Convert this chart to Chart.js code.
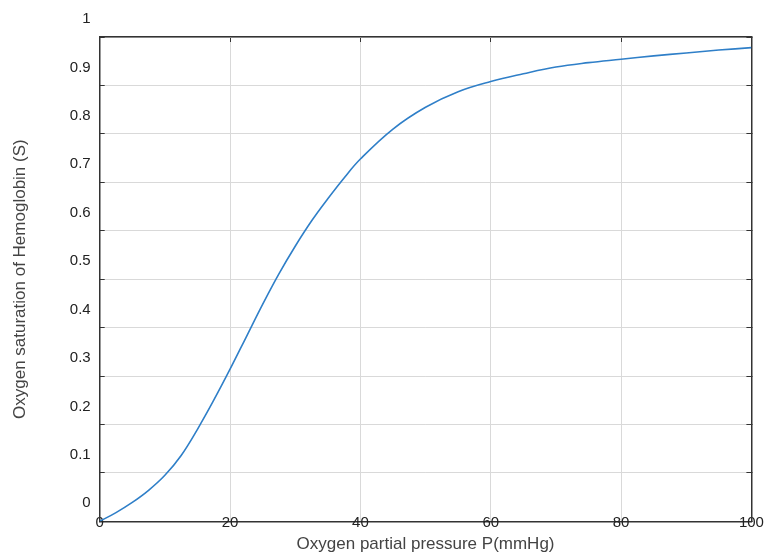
<!DOCTYPE html>
<html>
<head>
<meta charset="utf-8">
<script src="https://cdn.jsdelivr.net/npm/chart.js@4.4.0/dist/chart.umd.min.js"></script>
<style>
  html, body { margin: 0; padding: 0; background: #fff; }
  #wrap { width: 767px; height: 558px; }
</style>
</head>
<body>
<div id="wrap"><canvas id="myChart" width="767" height="558"></canvas></div>
<script>
// values
var pressure = [0, 2.5, 5, 7.5, 10, 12.5, 15, 17.5, 20, 22.5, 25, 27.5, 30, 32.5, 35, 37.5, 40,
                45, 50, 55, 60, 65, 70, 75, 80, 85, 90, 95, 100];
var saturation = [0, 0.018, 0.039, 0.064, 0.095, 0.136, 0.19, 0.25, 0.314, 0.381, 0.448, 0.511, 0.568, 0.62, 0.666, 0.709, 0.748,
                  0.81, 0.855, 0.887, 0.908, 0.924, 0.938, 0.947, 0.954, 0.961, 0.967, 0.973, 0.978];
var xTicks = [0, 20, 40, 60, 80, 100];
var yTicks = [0, 0.1, 0.2, 0.3, 0.4, 0.5, 0.6, 0.7, 0.8, 0.9, 1];

var points = pressure.map(function(p, i) { return {x: p, y: saturation[i]}; });

Chart.defaults.font.family = '"Liberation Sans", Arial, sans-serif';
Chart.defaults.color = '#333';

var ctx = document.getElementById('myChart');
var myChart = new Chart(ctx, {
    type: 'line',
    data: {
        datasets: [{
            data: points,
            borderColor: '#2f7fc8',
            borderWidth: 1.6,
            pointRadius: 0,
            tension: 0.4,
            fill: false
        }]
    },
    options: {
        responsive: false,
        animation: false,
        layout: { padding: { top: 37, left: 0, right: 15.6, bottom: 0 } },
        plugins: { legend: { display: false }, tooltip: { enabled: false } },
        scales: {
            x: {
                type: 'linear', position: 'bottom', min: 0, max: 100,
                afterBuildTicks: function(s) { s.ticks = xTicks.map(function(v) { return {value: v}; }); },
                afterFit: function(s) { s.height = 36.7; },
                grid: { color: '#d9d9d9', drawTicks: false },
                border: { color: '#333', width: 1.5 },
                ticks: { mirror: true, padding: -11, font: { size: 15 }, color: '#222', maxRotation: 0,
                         callback: function(v) { return String(v); } },
                title: { display: true, text: 'Oxygen partial pressure P(mmHg)', font: { size: 17 }, color: '#444', padding: { top: 0, bottom: 3 } }
            },
            xTop: {
                type: 'linear', position: 'top', min: 0, max: 100,
                afterBuildTicks: function(s) { s.ticks = xTicks.map(function(v) { return {value: v}; }); },
                afterFit: function(s) { s.height = 0; },
                grid: { drawOnChartArea: false, tickLength: -5, tickColor: '#333' },
                border: { color: '#333', width: 1.5 },
                ticks: { display: false }
            },
            y: {
                type: 'linear', position: 'left', min: 0, max: 1,
                afterBuildTicks: function(s) { s.ticks = yTicks.map(function(v) { return {value: v}; }); },
                afterFit: function(s) { s.width = 99.7; },
                grid: { color: '#d9d9d9', tickLength: -5, tickColor: '#333' },
                border: { color: '#333', width: 1.5 },
                ticks: { padding: 14, labelOffset: -18, font: { size: 15 }, color: '#222',
                         callback: function(v) { return String(Math.round(v * 10) / 10); } },
                title: { display: true, text: 'Oxygen saturation of Hemoglobin (S)', font: { size: 17 }, color: '#444', padding: { top: 10, bottom: 0 } }
            },
            yRight: {
                type: 'linear', position: 'right', min: 0, max: 1,
                afterBuildTicks: function(s) { s.ticks = yTicks.map(function(v) { return {value: v}; }); },
                afterFit: function(s) { s.width = 0; },
                grid: { drawOnChartArea: false, tickLength: -5, tickColor: '#333' },
                border: { color: '#333', width: 1.5 },
                ticks: { display: false }
            }
        }
    }
});
</script>
</body>
</html>
